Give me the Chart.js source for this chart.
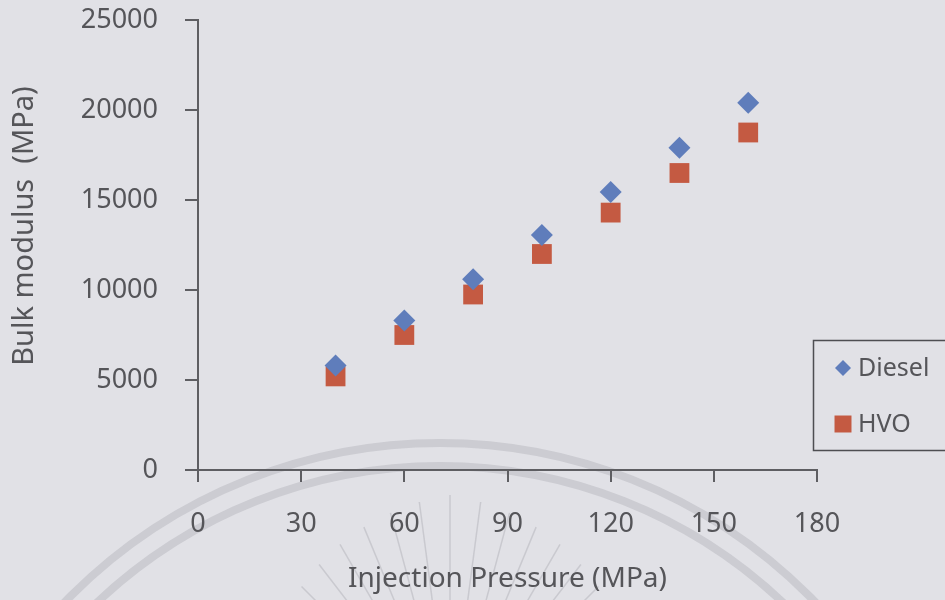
<!DOCTYPE html>
<html>
<head>
<meta charset="utf-8">
<title>Bulk modulus vs injection pressure</title>
<script src="https://cdn.jsdelivr.net/npm/chart.js@4.4.0/dist/chart.umd.min.js"></script>
<style>
  html, body { margin: 0; padding: 0; background: #e1e1e6; }
  canvas { display: block; }
</style>
</head>
<body>
<canvas id="bulkChart" width="945" height="600"></canvas>
<script>
// Data
const pressures = [40, 60, 80, 100, 120, 140, 160];
const dieselModulus = [5800, 8300, 10600, 13050, 15450, 17900, 20400];
const hvoModulus = [5200, 7500, 9750, 12000, 14300, 16500, 18750];
const xTicks = [0, 30, 60, 90, 120, 150, 180];
const yTicks = [0, 5000, 10000, 15000, 20000, 25000];

const FONT = "'Noto Sans', 'Open Sans', sans-serif";
const textColor = '#555559';
const axisColor = '#5e5e62';
const bgColor = '#e1e1e6';
const dieselColor = '#5f7dbb';
const hvoColor = '#c45a42';

const toPoints = (xs, ys) => xs.map((x, i) => ({ x: x, y: ys[i] }));

// Background plus the faint seal behind the plot
const backdrop = {
    id: 'backdrop',
    beforeDraw(chart) {
        const ctx = chart.ctx;
        ctx.save();
        ctx.fillStyle = bgColor;
        ctx.fillRect(0, 0, chart.width, chart.height);

        ctx.strokeStyle = 'rgba(120, 120, 128, 0.2)';
        ctx.lineWidth = 8;
        ctx.beginPath();
        ctx.arc(440, 965, 522, Math.PI, 2 * Math.PI);
        ctx.stroke();
        ctx.beginPath();
        ctx.arc(440, 965, 499, Math.PI, 2 * Math.PI);
        ctx.stroke();

        // rays
        ctx.lineWidth = 1.5;
        ctx.strokeStyle = 'rgba(120, 120, 128, 0.22)';
        for (let i = 0; i <= 24; i++) {
            const a = Math.PI + (i / 24) * Math.PI;
            const r0 = 110, r1 = 240 - Math.abs(i - 12) * 5;
            ctx.beginPath();
            ctx.moveTo(450 + Math.cos(a) * r0, 735 + Math.sin(a) * r0);
            ctx.lineTo(450 + Math.cos(a) * r1, 735 + Math.sin(a) * r1);
            ctx.stroke();
        }
        ctx.restore();
    }
};

// Boxed legend and rotated y-axis title
const extras = {
    id: 'extras',
    afterDraw(chart) {
        const ctx = chart.ctx;
        const sets = chart.data.datasets;
        ctx.save();

        ctx.strokeStyle = '#4e4e52';
        ctx.lineWidth = 1.5;
        ctx.strokeRect(813.5, 340.5, 150, 110);

        const rows = [
            { y: 368, radius: 8 },
            { y: 424, radius: 12 }
        ];
        ctx.font = '25px ' + FONT;
        ctx.textBaseline = 'middle';
        ctx.textAlign = 'left';
        rows.forEach((row, i) => {
            ctx.fillStyle = sets[i].backgroundColor;
            Chart.helpers.drawPoint(ctx, { pointStyle: sets[i].pointStyle, radius: row.radius, borderWidth: 0, rotation: 0 }, 843, row.y);
            ctx.fillStyle = textColor;
            ctx.fillText(sets[i].label, 858, row.y + 1);
        });

        ctx.translate(25, 226);
        ctx.rotate(-Math.PI / 2);
        ctx.textAlign = 'center';
        ctx.font = '29px ' + FONT;
        ctx.fillText('Bulk modulus  (MPa)', 0, 0);
        ctx.restore();
    }
};

const ctx = document.getElementById('bulkChart').getContext('2d');

const bulkChart = new Chart(ctx, {
    type: 'scatter',
    data: {
        datasets: [{
            label: 'Diesel',
            data: toPoints(pressures, dieselModulus),
            pointStyle: 'rectRot',
            pointRadius: 11,
            backgroundColor: dieselColor,
            borderColor: dieselColor,
            borderWidth: 0
        }, {
            label: 'HVO',
            data: toPoints(pressures, hvoModulus),
            pointStyle: 'rect',
            pointRadius: 14,
            backgroundColor: hvoColor,
            borderColor: hvoColor,
            borderWidth: 0
        }]
    },
    options: {
        responsive: false,
        animation: false,
        layout: { padding: { top: 20, right: 128, bottom: 0, left: 0 } },
        plugins: {
            legend: { display: false },
            tooltip: { enabled: false }
        },
        scales: {
            x: {
                type: 'linear',
                min: 0,
                max: 180,
                afterBuildTicks: s => { s.ticks = xTicks.map(v => ({ value: v })); },
                afterFit: s => {
                    s.height = 130;
                    s.paddingLeft = 0;
                    s.paddingRight = 0;
                },
                border: { display: true, color: axisColor, width: 2 },
                grid: { drawOnChartArea: false, tickLength: 12, color: axisColor, lineWidth: 2 },
                ticks: { padding: 26, color: textColor, maxRotation: 0, font: { family: FONT, size: 27 } },
                title: {
                    display: true,
                    text: 'Injection Pressure (MPa)',
                    color: textColor,
                    font: { family: FONT, size: 28 },
                    padding: { top: 0, bottom: 4 }
                }
            },
            y: {
                min: 0,
                max: 25000,
                afterBuildTicks: s => { s.ticks = yTicks.map(v => ({ value: v })); },
                afterFit: s => {
                    s.width = 198;
                    s.paddingTop = 0;
                    s.paddingBottom = 0;
                },
                border: { display: true, color: axisColor, width: 2 },
                grid: { drawOnChartArea: false, tickLength: 13, color: axisColor, lineWidth: 2 },
                ticks: {
                    padding: 27,
                    color: textColor,
                    font: { family: FONT, size: 27 },
                    callback: v => String(v)
                }
            }
        }
    },
    plugins: [backdrop, extras]
});
</script>
</body>
</html>
